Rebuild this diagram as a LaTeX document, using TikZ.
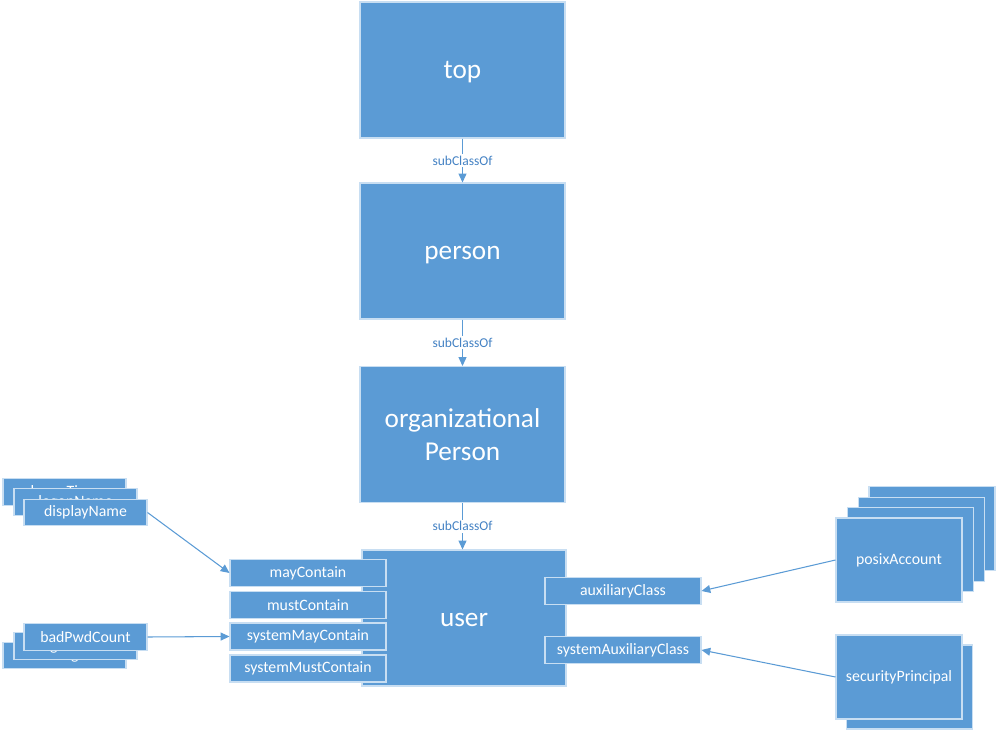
\documentclass[tikz,border=0pt]{standalone}
\usepackage{fontspec}
\setmainfont{Carlito}
\usetikzlibrary{arrows.meta}
\definecolor{boxblue}{RGB}{91,155,213}
\definecolor{boxedge}{RGB}{200,222,242}
\definecolor{labelblue}{RGB}{68,130,196}

\begin{document}
\begin{tikzpicture}[x=0.02cm, y=-0.02cm, >={Triangle[length=5pt, width=4.5pt]},
  classbox/.style={draw=boxedge, fill=boxblue, line width=0.6pt, text=white, inner sep=0pt,
    minimum width=4.1cm, minimum height=2.72cm, align=center, font=\fontsize{15.5}{18.5}\selectfont},
  oneline/.style={text height=1.0em, text depth=0em},
  attrbox/.style={draw=boxedge, fill=boxblue, line width=0.6pt, text=white, inner sep=0pt,
    minimum width=3.12cm, minimum height=0.54cm, font=\fontsize{9}{11}\selectfont},
  namebox/.style={attrbox, minimum width=2.46cm, minimum height=0.53cm},
  stackbox/.style={attrbox, minimum width=2.52cm, minimum height=1.68cm},
  link/.style={->, draw=boxblue, line width=0.6pt},
  sublabel/.style={fill=white, text=labelblue, inner sep=1pt, font=\fontsize{7.7}{9}\selectfont}]

\useasboundingbox (0,0) rectangle (1000,736);

% Classes
\node[classbox, oneline] (top) at (462.5,70) {top};
\node[classbox, oneline] (person) at (462.5,251) {person};
\node[classbox] (orgPerson) at (462.5,434.5) {organizational\\Person};
\node[classbox, oneline, minimum width=4.08cm] (user) at (464,618) {user};

% subClassOf
\draw[link] (top.south) -- node[sublabel] {subClassOf} (person.north);
\draw[link] (person.south) -- node[sublabel] {subClassOf} (orgPerson.north);
\draw[link] (orgPerson.south) -- node[sublabel] {subClassOf} (orgPerson.south |- user.north);

% Attributs de user
\node[attrbox] (mayC) at (308,573) {mayContain};
\node[attrbox] (mustC) at (308,605) {mustContain};
\node[attrbox] (sysMayC) at (308,636.5) {systemMayContain};
\node[attrbox] (sysMustC) at (308,668.5) {systemMustContain};
\node[attrbox] (auxC) at (623,591) {auxiliaryClass};
\node[attrbox] (sysAuxC) at (623,650) {systemAuxiliaryClass};

% Piles de gauche
\node[namebox] (logonT) at (64.5,492) {logonTime};
\node[namebox] (logonN) at (75.5,502) {logonName};
\node[namebox] (dispName) at (85.5,512.5) {displayName};
\node[namebox] (lastLogon) at (64.5,655.5) {lastLogon};
\node[namebox] (logonCnt) at (75.5,646) {logonCount};
\node[namebox] (badPwd) at (85.5,637) {badPwdCount};

% Piles de droite
\foreach \i/\xpos/\ypos in {3/932/528.5, 2/921.5/539.5, 1/910.5/549.5} {
    \node[stackbox] (posix\i) at (\xpos,\ypos) {};
}
\node[stackbox] (posix) at (899,560) {posixAccount};
\node[stackbox] (secPrin1) at (909.5,687) {};
\node[stackbox] (secPrin) at (899,677) {securityPrincipal};

% Liens
\draw[link] (dispName.east) -- (mayC.west);
\draw[link] (badPwd.east) -- (sysMayC.west);
\draw[link] (posix.west) -- (auxC.east);
\draw[link] (secPrin.west) -- (sysAuxC.east);

\end{tikzpicture}
\end{document}
